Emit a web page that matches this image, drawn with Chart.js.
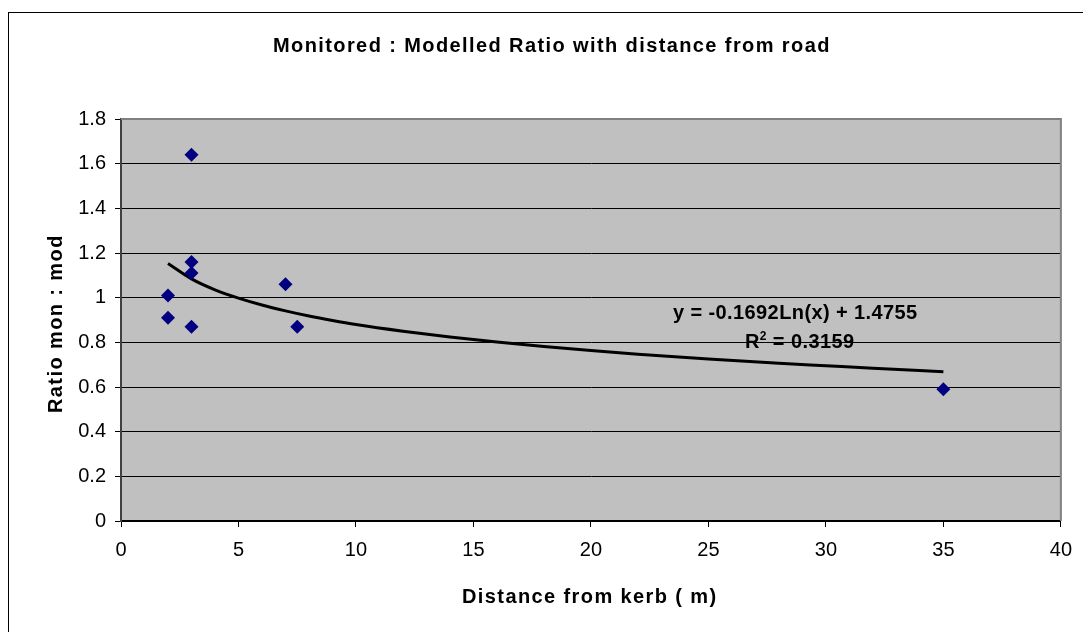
<!DOCTYPE html>
<html lang="en">

<head>
    <meta charset="UTF-8">
    <title>Monitored : Modelled Ratio with distance from road</title>
    <script src="https://cdn.jsdelivr.net/npm/chart.js"></script>
    <style>
        body {
            margin: 0;
            padding: 0;
            background: #fff;
        }

        .chart-box {
            width: 1083px;
            height: 632px;
        }
    </style>
</head>

<body>
    <div class="chart-box">
        <canvas id="ratioChart"></canvas>
    </div>

    <script>
        // measured sites: distance from kerb (m) and monitored/modelled ratio
        const siteDistance = [2, 2, 3, 3, 3, 3, 7, 7.5, 35];
        const siteRatio = [1.01, 0.91, 1.64, 1.16, 1.11, 0.87, 1.06, 0.87, 0.59];

        // log trendline
        const trendDistance = [2, 3, 4, 5, 6, 7, 8, 9, 10, 12, 14, 16, 18, 20, 22, 25, 28, 30, 32, 35];
        const trendRatio = [1.153, 1.084, 1.035, 0.998, 0.967, 0.941, 0.918, 0.898, 0.880, 0.850, 0.824, 0.801, 0.781, 0.763, 0.747, 0.725, 0.706, 0.695, 0.684, 0.668];

        const xTicks = [0, 5, 10, 15, 20, 25, 30, 35, 40];
        const yTicks = [0, 0.2, 0.4, 0.6, 0.8, 1, 1.2, 1.4, 1.6, 1.8];

        const chartTitle = 'Monitored : Modelled Ratio with distance from road';
        const xTitle = 'Distance from kerb ( m)';
        const yTitle = 'Ratio mon : mod';
        const trendEquation = 'y = -0.1692Ln(x) + 1.4755';
        const trendR2 = '0.3159';

        const FONT = "'Liberation Sans', Arial, sans-serif";

        // background, frame, plot area and the texts excel draws around it
        const excelLook = {
            id: 'excelLook',
            beforeDraw(chart) {
                const ctx = chart.ctx;
                const a = chart.chartArea;
                ctx.save();
                ctx.fillStyle = '#fff';
                ctx.fillRect(0, 0, chart.width, chart.height);
                ctx.strokeStyle = '#000';
                ctx.lineWidth = 1;
                ctx.strokeRect(8.5, 12.5, chart.width + 20, chart.height + 20);
                ctx.fillStyle = '#c0c0c0';
                ctx.fillRect(a.left, a.top, a.right - a.left, a.bottom - a.top);
                ctx.restore();
            },
            beforeDatasetsDraw(chart) {
                const ctx = chart.ctx;
                const a = chart.chartArea;
                ctx.save();
                ctx.strokeStyle = '#808080';
                ctx.lineWidth = 2;
                ctx.beginPath();
                ctx.moveTo(a.left, a.top);
                ctx.lineTo(a.right, a.top);
                ctx.lineTo(a.right, a.bottom);
                ctx.stroke();
                ctx.restore();
            },
            afterDraw(chart) {
                const ctx = chart.ctx;
                ctx.save();
                ctx.fillStyle = '#000';
                ctx.textBaseline = 'alphabetic';
                ctx.textAlign = 'left';
                ctx.font = 'bold 20px ' + FONT;
                ctx.letterSpacing = '1.4px';
                ctx.fillText(chartTitle, 273, 52);
                ctx.fillText(xTitle, 462, 603);

                ctx.save();
                ctx.translate(62, 413);
                ctx.rotate(-Math.PI / 2);
                ctx.fillText(yTitle, 0, 0);
                ctx.restore();

                // trendline label
                ctx.letterSpacing = '0.4px';
                ctx.fillText(trendEquation, 673, 319);
                ctx.fillText('R', 745, 348);
                let w = ctx.measureText('R').width;
                ctx.font = 'bold 12px ' + FONT;
                ctx.fillText('2', 745 + w, 340);
                w += ctx.measureText('2').width;
                ctx.font = 'bold 20px ' + FONT;
                ctx.fillText(' = ' + trendR2, 745 + w, 348);
                ctx.restore();
            }
        };

        new Chart(document.getElementById('ratioChart'), {
            type: 'scatter',
            data: {
                datasets: [{
                    label: 'Sites',
                    data: siteDistance.map((x, i) => ({ x: x, y: siteRatio[i] })),
                    pointStyle: 'rectRot',
                    pointRadius: 7,
                    pointHoverRadius: 7,
                    pointBorderWidth: 0,
                    backgroundColor: '#000080',
                    borderColor: '#000080',
                    order: 1
                }, {
                    label: 'Log trend',
                    type: 'line',
                    data: trendDistance.map((x, i) => ({ x: x, y: trendRatio[i] })),
                    borderColor: '#000',
                    borderWidth: 3,
                    pointRadius: 0,
                    fill: false,
                    cubicInterpolationMode: 'monotone',
                    order: 2
                }]
            },
            options: {
                responsive: true,
                maintainAspectRatio: false,
                animation: false,
                events: [],
                layout: {
                    padding: { top: 119, right: 22, left: 0, bottom: 0 }
                },
                plugins: {
                    legend: { display: false },
                    title: { display: false },
                    tooltip: { enabled: false }
                },
                scales: {
                    x: {
                        type: 'linear',
                        min: 0,
                        max: 40,
                        afterFit(scale) { scale.height = 111; },
                        afterBuildTicks(scale) { scale.ticks = xTicks.map(v => ({ value: v })); },
                        ticks: {
                            color: '#000',
                            padding: 11,
                            font: { family: FONT, size: 20 },
                            callback: v => String(v)
                        },
                        grid: {
                            drawOnChartArea: false,
                            color: '#000',
                            tickLength: 6
                        },
                        border: { color: '#000', width: 2 }
                    },
                    y: {
                        min: 0,
                        max: 1.8,
                        afterFit(scale) { scale.width = 121; },
                        afterBuildTicks(scale) { scale.ticks = yTicks.map(v => ({ value: v })); },
                        ticks: {
                            color: '#000',
                            padding: 9,
                            font: { family: FONT, size: 20 },
                            callback: v => String(Math.round(v * 10) / 10)
                        },
                        grid: {
                            color: '#000',
                            tickLength: 6
                        },
                        border: { color: '#404040', width: 2 }
                    }
                }
            },
            plugins: [excelLook]
        });
    </script>
</body>

</html>
